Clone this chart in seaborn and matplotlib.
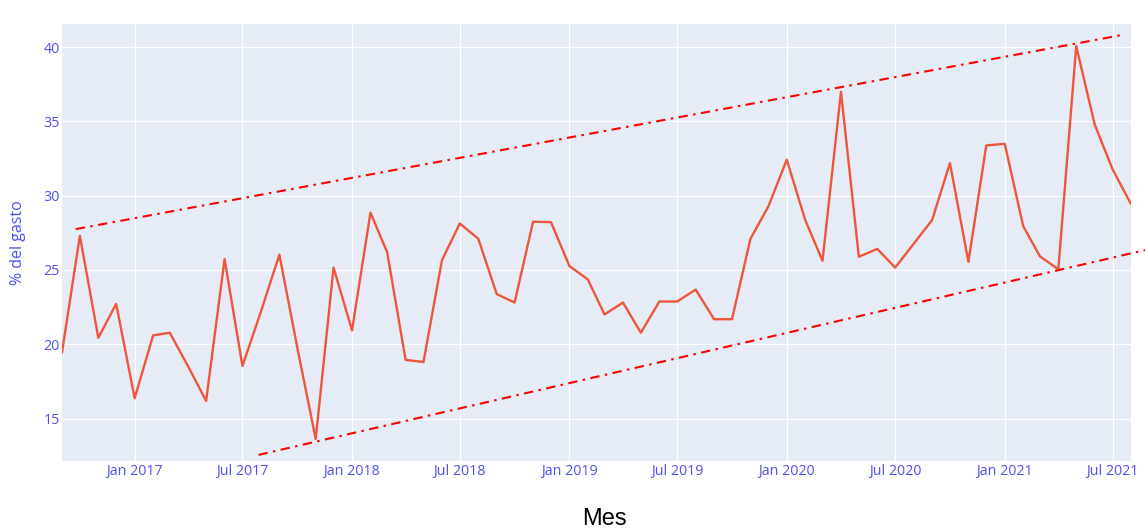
import pandas as pd
import matplotlib.pyplot as plt
import matplotlib.dates as mdates
import seaborn as sns

# monthly share of spending, Sep 2016 .. Aug 2021
meses = pd.date_range("2016-09-01", "2021-08-01", freq="MS")
gasto = [19.45, 27.3, 20.44, 22.72, 16.37, 20.6, 20.78, 18.5, 16.19, 25.73,
         18.54, 22.2, 26.03, 19.8, 13.63, 25.16, 20.94, 28.86, 26.19, 18.95,
         18.81, 25.66, 28.13, 27.1, 23.38, 22.81, 28.25, 28.22, 25.27, 24.36,
         22.01, 22.81, 20.78, 22.88, 22.88, 23.68, 21.69, 21.69, 27.1, 29.27,
         32.42, 28.36, 25.62, 36.99, 25.89, 26.42, 25.16, 26.76, 28.36, 32.19,
         25.55, 33.38, 33.49, 27.95, 25.92, 25.05, 40.07, 34.79, 31.78, 29.43]

# channel lines (start / end)
sup_x = pd.to_datetime(["2016-09-24", "2021-07-17"])
sup_y = [27.75, 40.81]
inf_x = pd.to_datetime(["2017-07-28", "2021-08-26"])
inf_y = [12.56, 26.35]

TICK_COLOR = "#5050f0"

sns.set_theme(style="darkgrid", rc={"axes.facecolor": "#E5ECF6",
                                    "grid.color": "white",
                                    "grid.linewidth": 0.8})
plt.rcParams['font.family'] = ['Open Sans', 'DejaVu Sans']

fig = plt.figure(figsize=(11.45, 5.31), dpi=100)
ax = fig.add_axes([62 / 1145, 1 - 461 / 531, 1069 / 1145, 437 / 531])

df = pd.DataFrame({"Mes": meses, "gasto": gasto})
sns.lineplot(data=df, x="Mes", y="gasto", color="#EF553B", linewidth=1.7, ax=ax)

dashdot = (0, (4.5, 2.6, 1.2, 2.6))
ax.plot(sup_x, sup_y, color="red", linewidth=1.5, linestyle=dashdot)
ax.plot(inf_x, inf_y, color="red", linewidth=1.5, linestyle=dashdot, clip_on=False)

ax.set_xlim(meses[0], meses[-1])
ax.set_ylim(12.15, 41.55)
ax.set_yticks([15, 20, 25, 30, 35, 40])
ax.xaxis.set_major_locator(mdates.MonthLocator(bymonth=[1, 7]))
ax.xaxis.set_major_formatter(mdates.DateFormatter("%b %Y"))
ax.tick_params(axis="both", length=0, labelsize=10.3, labelcolor=TICK_COLOR)
ax.tick_params(axis="y", pad=1.5)
ax.tick_params(axis="x", pad=2.5)

ax.set_ylabel("% del gasto", fontsize=11.5, color=TICK_COLOR)
ax.yaxis.set_label_coords(-0.034, 0.5)
ax.set_xlabel("Mes", fontsize=17, family="Liberation Sans", color="black", va="center")
ax.xaxis.set_label_coords((604.5 - 62) / 1069, (461 - 519) / 437)

sns.despine(ax=ax, left=True, bottom=True, top=True, right=True)

fig.savefig("out.png", dpi=100)
